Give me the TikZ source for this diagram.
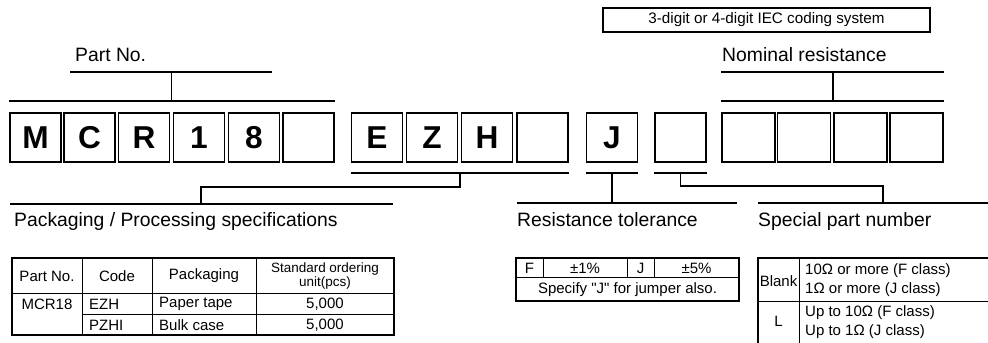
\documentclass[tikz,border=0pt]{standalone}
\usepackage{fontspec}
\setmainfont{Liberation Sans}
\tikzset{
  digit/.style={draw, line width=1.4pt, minimum width=15.3mm, minimum height=14.7mm, inner sep=0pt, font=\fontsize{27}{27}\selectfont\bfseries},
  wdigit/.style={digit, minimum width=15.8mm},
  bar/.style={line width=1.4pt},
  frame/.style={line width=1.4pt},
  rule/.style={line width=0.7pt},
  head/.style={inner sep=0pt, anchor=base west, font=\fontsize{16.5}{18}\selectfont},
  cell/.style={inner sep=0pt, font=\fontsize{12.8}{14}\selectfont},
  lcell/.style={cell, anchor=west}
}

\begin{document}
\begin{tikzpicture}[x=0.3mm, y=-0.3mm]
		\clip (0,0) rectangle (988,343);
		\node[digit] (m) at (35.5,137.5) {M};
		\node[digit] (c) at (89.5,137.5) {C};
		\node[digit] (r) at (144,137.5) {R};
		\node[digit] (one) at (199,137.5) {1};
		\node[digit] (eight) at (254,137.5) {8};
		\node[digit] (blankA) at (308.5,137.5) {};
		\node[digit] (e) at (377,137.5) {E};
		\node[digit] (z) at (432,137.5) {Z};
		\node[digit] (h) at (487,137.5) {H};
		\node[digit] (blankB) at (542.5,137.5) {};
		\node[digit] (j) at (612,137.5) {J};
		\node[digit] (spec) at (680.5,137.5) {};
		\node[wdigit] (nomA) at (748.5,137.5) {};
		\node[wdigit] (nomB) at (804,137.5) {};
		\node[wdigit] (nomC) at (860.5,137.5) {};
		\node[wdigit] (nomD) at (916.5,137.5) {};

		\node[draw, frame, minimum width=98.1mm, minimum height=7.2mm, inner sep=0pt, font=\fontsize{13}{13}\selectfont] (iec) at (766.5,20) {3-digit or 4-digit IEC coding system};

		\node[head] (partno) at (75,62) {Part No.};
		\node[head] (nominal) at (722,62) {Nominal resistance};
		\node[head] (packing) at (14,226) {Packaging / Processing specifications};
		\node[head] (toler) at (517,226) {Resistance tolerance};
		\node[head] (special) at (758,226) {Special part number};

		\coordinate (pnBar) at (171.5,101);
		\coordinate (pnTop) at (171.5,72);
		\draw[bar] (m.west |- pnBar) -- (blankA.east |- pnBar);
		\draw[bar] (70,72) -- (272,72);
		\draw[bar] (pnBar) -- (pnTop);

		\coordinate (nrBar) at (833,101);
		\coordinate (nrTop) at (833,72);
		\draw[bar] (nomA.west |- nrBar) -- (nomD.east |- nrBar);
		\draw[bar] (nomA.west |- nrTop) -- (nomD.east |- nrTop);
		\draw[bar] (nrBar) -- (nrTop);

		\coordinate (ppBar) at (460,173);
		\coordinate (ppLow) at (201,204);
		\draw[bar] (e.west |- ppBar) -- (blankB.east |- ppBar);
		\draw[bar] (ppBar) -- (460,187) -| (ppLow);
		\draw[bar] (10,204) -- (393,204);

		\coordinate (rtBar) at (612,173);
		\coordinate (rtLow) at (612,203);
		\draw[bar] (j.west |- rtBar) -- (j.east |- rtBar);
		\draw[bar] (rtBar) -- (rtLow);
		\draw[bar] (517,203) -- (737,203);

		\coordinate (spBar) at (680.5,173);
		\coordinate (spLow) at (883,203);
		\draw[bar] (spec.west |- spBar) -- (spec.east |- spBar);
		\draw[bar] (spBar) -- (680.5,186) -| (spLow);
		\draw[bar] (758,203) -- (1000,203);

		\draw[rule] (82,258) -- (82,335);
		\draw[rule] (152,258) -- (152,335);
		\draw[rule] (256,258) -- (256,335);
		\draw[rule] (12,293) -- (394,293);
		\draw[rule] (82,314) -- (394,314);
		\draw[frame] (12,258) rectangle (394,335);
		\node[cell] (hPart) at (47,276) {Part No.};
		\node[cell] (hCode) at (117,276) {Code};
		\node[cell] (hPack) at (204,276) {Packaging};
		\node[cell, align=center, font=\fontsize{11.5}{10}\selectfont] (hUnit) at (325,276) {Standard ordering\\unit(pcs)};
		\node[cell] (mcr) at (47,304) {MCR18};
		\node[lcell] (ezh) at (89,304) {EZH};
		\node[lcell] (paper) at (159,304) {Paper tape};
		\node[cell] (unitA) at (325,304) {5,000};
		\node[lcell] (pzhi) at (89,325) {PZHI};
		\node[lcell] (bulk) at (159,325) {Bulk case};
		\node[cell] (unitB) at (325,325) {5,000};

		\draw[rule] (543,258) -- (543,277);
		\draw[rule] (627,258) -- (627,277);
		\draw[rule] (654,258) -- (654,277);
		\draw[rule] (516,277) -- (739,277);
		\draw[frame] (516,258) rectangle (739,301);
		\node[cell] (tF) at (529.5,268) {F};
		\node[cell] (tOne) at (585,268) {±1\%};
		\node[cell] (tJ) at (640.5,268) {J};
		\node[cell] (tFive) at (696.5,268) {±5\%};
		\node[cell] (jumper) at (627.5,289.5) {Specify \textquotedbl J\textquotedbl{} for jumper also.};

		\draw[frame] (758,360) -- (758,258) -- (1000,258);
		\draw[rule] (799,258) -- (799,360);
		\draw[rule] (758,301) -- (1000,301);
		\node[cell] (sBlank) at (778.5,281) {Blank};
		\node[lcell, align=left, font=\fontsize{12.8}{16}\selectfont] (sMore) at (805,280) {10Ω or more (F class)\\1Ω or more (J class)};
		\node[cell] (sL) at (778.5,321) {L};
		\node[lcell, align=left, font=\fontsize{12.8}{16}\selectfont] (sUpto) at (805,322) {Up to 10Ω (F class)\\Up to 1Ω (J class)};
	\end{tikzpicture}
\end{document}
